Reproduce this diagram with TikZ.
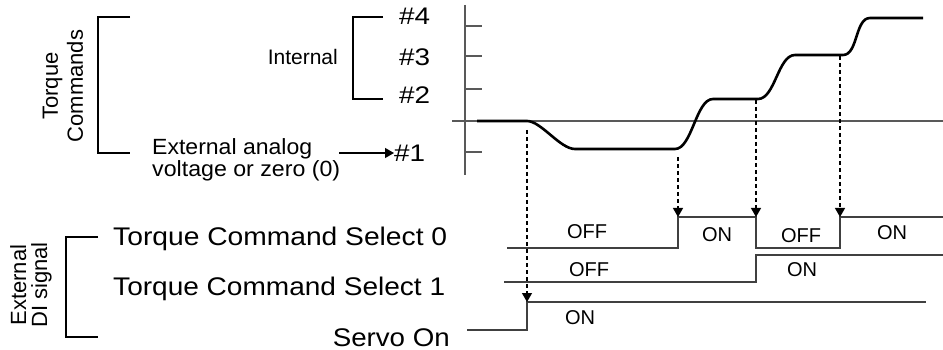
\documentclass[tikz,border=0pt]{standalone}
\usepackage{fontspec}
\usepackage{graphicx}
\setmainfont{Liberation Sans}
\usetikzlibrary{arrows.meta}
\newcommand{\fitw}[2]{\resizebox{#1}{\height}{#2}}
\tikzset{
  brk/.style={line width=2pt, black},
  sig/.style={line width=1.6pt, black!75},
  ax/.style={line width=1.6pt, black!65},
  curve/.style={line width=2.6pt, black, line join=round},
  dsh/.style={line width=1.2pt, black, dash pattern=on 4pt off 3pt},
  tip/.style={-{Triangle[length=9pt,width=10pt]}},
  big/.style={inner sep=0pt, font=\fontsize{25.5}{28}\selectfont},
  mid/.style={inner sep=0pt, font=\fontsize{22}{24}\selectfont},
  lvl/.style={inner sep=0pt, font=\fontsize{20}{22}\selectfont},
}
\begin{document}
\begin{tikzpicture}[x=1pt,y=-1pt]
\useasboundingbox (0,0) rectangle (943,350);
% brackets
\draw[brk] (130,17) -- (98,17) -- (98,153) -- (130,153);
\draw[brk] (383,17) -- (353,17) -- (353,99) -- (383,99);
\draw[brk] (98,237) -- (66,237) -- (66,337) -- (98,337);
% left labels
\node[mid, rotate=90, align=center, font=\fontsize{22}{25}\selectfont] (tc) at (63,86) {Torque\\Commands};
\node[mid, rotate=90, align=center, font=\fontsize{22}{21}\selectfont] (di) at (31,285) {External\\DI signal};
\node[mid, anchor=base east, font=\fontsize{21}{22}\selectfont] (int) at (338,65) {Internal};
\node[mid, anchor=base west] (ext1) at (152,155) {\fitw{160pt}{External analog}};
\node[mid, anchor=base west] (ext2) at (152,177) {\fitw{188pt}{voltage or zero (0)}};
\node[big, anchor=base west, font=\fontsize{24}{26}\selectfont] (n4) at (399,25) {\fitw{31pt}{\#4}};
\node[big, anchor=base west, font=\fontsize{24}{26}\selectfont] (n3) at (399,66) {\fitw{31pt}{\#3}};
\node[big, anchor=base west, font=\fontsize{24}{26}\selectfont] (n2) at (399,104) {\fitw{31pt}{\#2}};
\node[big, anchor=base west, font=\fontsize{24}{26}\selectfont] (n1) at (394,162) {\fitw{31pt}{\#1}};
\coordinate (a1s) at (339,153);
\draw[line width=1.2pt, tip] (a1s) -- (n1.west |- a1s);
\node[big, anchor=base west] (s0) at (113,245) {\fitw{334pt}{Torque Command Select 0}};
\node[big, anchor=base west] (s1) at (113,295) {\fitw{332pt}{Torque Command Select 1}};
\node[big, anchor=base east] (so) at (450,346) {\fitw{117pt}{Servo On}};
% axes
\draw[ax] (465,5) -- (465,175);
\draw[ax] (452,121) -- (943,121);
\foreach \y in {26,56,89,152} \draw[ax] (465,\y) -- (482,\y);
% torque curve
\draw[curve] (477,121) -- (527,121)
  .. controls (541,121) and (560,149) .. (575,149) -- (675,149)
  .. controls (692,149) and (696,99) .. (713,99) -- (758,99)
  .. controls (775,99) and (778,55) .. (795,55) -- (843,55)
  .. controls (858,55) and (855,18) .. (870,18) -- (923,18);
% signal traces
\coordinate (t0a) at (678,217);
\coordinate (t0b) at (756,217);
\coordinate (t0c) at (840,217);
\coordinate (tso) at (527,302);
\draw[sig] (507,248) -- (678,248) -- (t0a) -- (t0b) -- (756,248) -- (840,248) -- (t0c) -- (943,217);
\draw[sig] (504,282) -- (756,282) -- (756,255) -- (943,255);
\draw[sig] (467,330) -- (527,330) -- (tso) -- (926,302);
% dashed arrows
\coordinate (d1) at (527,130);
\coordinate (d2) at (678,157);
\coordinate (d3) at (756,100);
\coordinate (d4) at (840,56);
\draw[dsh, tip] (d1) -- (tso);
\draw[dsh, tip] (d2) -- (t0a);
\draw[dsh, tip] (d3) -- (t0b);
\draw[dsh, tip] (d4) -- (t0c);
% state labels
\node[lvl] (l1) at (587,232) {OFF};
\node[lvl] (l2) at (717,235) {ON};
\node[lvl] (l3) at (801,236) {OFF};
\node[lvl] (l4) at (892,233) {ON};
\node[lvl] (l5) at (589,270) {OFF};
\node[lvl] (l6) at (802,270) {ON};
\node[lvl] (l7) at (580,318) {ON};
\end{tikzpicture}
\end{document}
